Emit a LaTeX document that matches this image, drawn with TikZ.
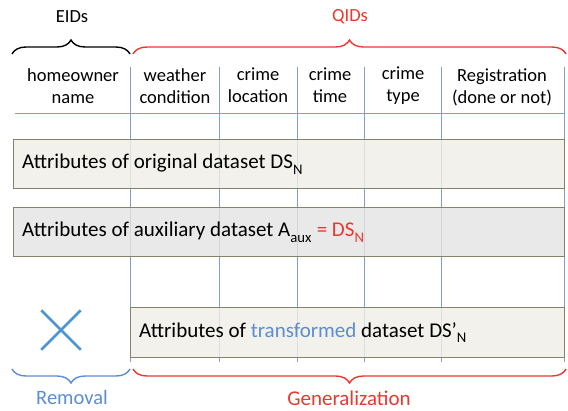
\documentclass[tikz,border=0pt]{standalone}
\usepackage{fontspec}
\setmainfont{Carlito}
\usetikzlibrary{decorations.pathreplacing,shapes.misc,positioning}
\definecolor{gridblue}{HTML}{809FD0}
\definecolor{qidred}{HTML}{E8382F}
\definecolor{remblue}{HTML}{5B8DD3}
\definecolor{crossblue}{HTML}{4F95D2}
\definecolor{boxedge}{HTML}{858269}
\definecolor{origfill}{HTML}{EFEEE7}
\definecolor{auxfill}{HTML}{E3E3E3}
\newcommand{\hdsize}{\fontsize{18.5}{22}\selectfont}
\newcommand{\boxsize}{\fontsize{21}{24}\selectfont}
\newcommand{\lowsub}[1]{\raisebox{-0.25ex}{\textsubscript{#1}}}

\begin{document}
\begin{tikzpicture}[x=1pt,y=-1pt,
	gridline/.style={gridblue, line width=0.9pt},
	brace/.style={decorate, decoration={brace, amplitude=14pt}, line width=1.4pt},
	head/.style={align=center, font=\hdsize, inner sep=0pt},
	databox/.style={draw=boxedge, line width=1.2pt, anchor=north west, inner sep=0pt, fill opacity=0.8},
	boxtext/.style={font=\boxsize, anchor=west, inner sep=0pt}]

			\useasboundingbox (0,0) rectangle (568,410);

			\foreach \x in {130,219,297,364,441,564}
				\draw[gridline] (\x,67) -- (\x,362);
			\draw[gridline] (15,113) -- (564,113);

			\node[head] (eids) at (72,17) {EIDs};
			\node[head, text=qidred] (qids) at (350,17) {QIDs};

			\coordinate (eidL) at (12,54);
			\coordinate (eidR) at (130,54);
			\coordinate (qidL) at (133,54);
			\coordinate (qidR) at (566,54);
			\draw[brace] (eidL) -- (eidR);
			\draw[brace, qidred] (qidL) -- (qidR);

			\node[head] (owner) at (73,86) {homeowner\\name};
			\node[head] (weather) at (175,86) {weather\\condition};
			\node[head] (location) at (258,85) {crime\\location};
			\node[head] (time) at (330,85) {crime\\time};
			\node[head] (type) at (403,86) {crime\\type};
			\node[head] (regist) at (502,87) {Registration\\(done or not)};

			\node[databox, fill=origfill, minimum width=551pt, minimum height=49pt] (origbox) at (13,139) {};
			\node[boxtext] (origtext) at ([xshift=9pt]origbox.west) {Attributes of original dataset DS\lowsub{N}};

			\node[databox, fill=auxfill, minimum width=551pt, minimum height=49pt] (auxbox) at (13,207) {};
			\node[boxtext] (auxtext) at ([xshift=9pt]auxbox.west) {Attributes of auxiliary dataset A\lowsub{aux} \textcolor{qidred}{= DS\lowsub{N}}};

			\node[databox, fill=origfill, minimum width=434pt, minimum height=50pt] (transbox) at (130,307) {};
			\node[boxtext] (transtext) at ([xshift=9pt]transbox.west) {Attributes of \textcolor{remblue}{transformed} dataset DS’\lowsub{N}};

			\node[cross out, draw=crossblue, line width=2.5pt, minimum size=37pt, inner sep=0pt] (removed) at (61,330) {};

			\coordinate (remL) at (12,369);
			\coordinate (remR) at (130,369);
			\coordinate (genL) at (133,369);
			\coordinate (genR) at (566,369);
			\draw[brace, remblue] (remR) -- (remL);
			\draw[brace, qidred] (genR) -- (genL);

			\node[font=\fontsize{20.5}{24}\selectfont, text=remblue, inner sep=0pt] (removal) at (72,397) {Removal};
			\node[font=\fontsize{21}{24}\selectfont, text=qidred, inner sep=0pt] (general) at (349,398) {Generalization};

		\end{tikzpicture}
\end{document}
